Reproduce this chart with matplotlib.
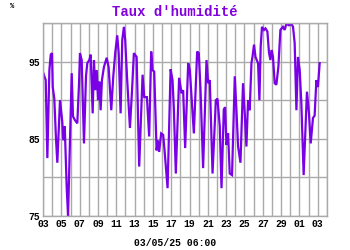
import matplotlib
matplotlib.use("Agg")
import matplotlib.pyplot as plt

# -----------------------------
# Humidity over 30 days (days since 03/04)
# -----------------------------

days = [
    0.03, 0.29, 0.47, 0.69, 0.84, 0.98, 1.06, 1.23, 1.42, 1.56,
    1.85, 2.10, 2.21, 2.37, 2.58, 2.73, 3.02, 3.13, 3.27, 3.49,
    3.74, 3.93, 4.03, 4.22, 4.33, 4.47, 4.69, 4.83, 5.05, 5.20,
    5.42, 5.56, 5.70, 5.86, 6.00, 6.14, 6.29, 6.43, 6.65, 6.95,
    7.16, 7.45, 7.67, 7.88, 8.10, 8.26, 8.47, 8.65, 8.83, 8.97,
    9.19, 9.49, 9.71, 9.92, 10.22, 10.50, 10.87, 11.05, 11.34, 11.59,
    11.81, 11.96, 12.14, 12.40, 12.54, 12.68, 12.90, 13.12, 13.27, 13.60,
    13.93, 14.14, 14.29, 14.50, 14.86, 15.13, 15.30, 15.52, 15.85, 16.03,
    16.47, 16.83, 17.01, 17.20, 17.48, 17.85, 18.03, 18.21, 18.51, 18.87,
    19.05, 19.30, 19.49, 19.74, 19.88, 20.03, 20.21, 20.39, 20.64, 20.94,
    21.12, 21.30, 21.56, 21.84, 22.03, 22.21, 22.39, 22.57, 22.76, 22.87,
    23.04, 23.20, 23.48, 23.63, 23.77, 23.91, 24.13, 24.29, 24.50, 24.68,
    24.83, 24.97, 25.11, 25.30, 25.48, 25.70, 25.92, 26.20, 26.39, 26.57,
    26.86, 27.12, 27.30, 27.48, 27.67, 27.84, 28.03, 28.21, 28.46, 28.82,
    29.04, 29.23, 29.48, 29.66, 29.85, 30.02, 30.21,
]
humidity = [
    93.5, 92.6, 82.5, 93.9, 95.9, 96.1, 91.7, 90.2, 84.8, 81.9,
    90.0, 87.2, 84.8, 86.6, 78.8, 75.0, 88.8, 93.5, 87.9, 87.4,
    87.0, 92.2, 96.1, 95.2, 90.4, 84.4, 93.1, 94.8, 95.2, 95.9,
    88.3, 95.2, 91.3, 93.9, 90.0, 92.4, 88.7, 92.6, 94.3, 95.5,
    94.3, 88.7, 93.1, 96.1, 98.4, 96.1, 88.3, 97.8, 99.5, 97.8,
    92.6, 86.4, 91.1, 96.1, 95.6, 81.4, 93.3, 90.4, 90.4, 85.3,
    96.3, 93.9, 93.7, 83.5, 84.8, 83.3, 85.7, 85.5, 83.5, 78.6,
    94.0, 92.6, 88.8, 80.5, 92.9, 90.9, 91.3, 83.8, 94.8, 93.9,
    85.7, 96.3, 96.1, 91.3, 81.2, 95.2, 92.2, 92.6, 80.5, 90.0,
    90.2, 86.6, 78.6, 88.8, 89.1, 84.2, 85.7, 80.5, 80.3, 93.1,
    88.7, 84.0, 81.9, 92.2, 88.3, 84.0, 90.0, 88.7, 94.8, 95.6,
    97.2, 95.6, 94.8, 90.0, 97.0, 99.5, 99.1, 99.3, 98.9, 96.1,
    95.2, 96.5, 95.6, 92.2, 92.0, 94.3, 99.1, 99.5, 99.1, 99.9,
    99.7, 99.9, 99.5, 97.4, 88.7, 95.6, 93.9, 89.6, 80.3, 91.1,
    88.3, 84.4, 87.7, 88.0, 92.6, 91.7, 94.8,
]

day_ticks = list(range(0, 31, 2))
day_labels = ["03", "05", "07", "09", "11", "13", "15", "17",
              "19", "21", "23", "25", "27", "29", "01", "03"]
y_ticks = [75, 85, 95]

font = {"family": "Liberation Mono", "weight": "bold"}

fig = plt.figure(figsize=(3.5, 2.5), dpi=100)
ax = fig.add_axes([0.123, 0.136, 0.811, 0.772])

ax.plot(days, humidity, color="#7a00e6", linewidth=1.6, solid_joinstyle="miter")

ax.set_xlim(0, 31)
ax.set_ylim(75, 100)
ax.set_xticks(range(0, 32), minor=True)
ax.set_xticks(day_ticks)
ax.set_xticklabels(day_labels, fontdict=font, fontsize=7)
ax.set_yticks(range(75, 101, 5), minor=True)
ax.set_yticks(y_ticks)
ax.set_yticklabels([str(v) for v in y_ticks], fontdict=font, fontsize=7)
ax.tick_params(which="both", length=0, pad=2)
ax.grid(True, which="both", color="#aaaaaa", linewidth=1)
ax.set_axisbelow(True)
for s in ax.spines.values():
    s.set_color("#aaaaaa")
    s.set_linewidth(1)

fig.text(0.5, 0.952, "Taux d'humidité", ha="center", va="center",
         color="#8000e0", fontsize=10, **font)
fig.text(0.035, 0.975, "%", ha="center", va="center", fontsize=5, **font)
fig.text(0.5, 0.028, "03/05/25 06:00", ha="center", va="center",
         fontsize=7, **font)

fig.savefig("out.png", dpi=100)
